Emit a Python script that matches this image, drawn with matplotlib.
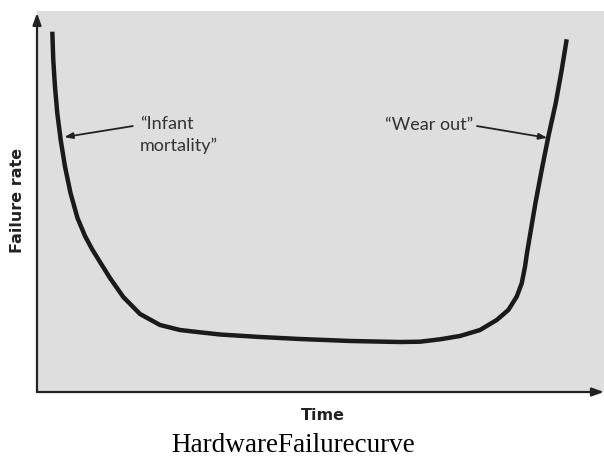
import matplotlib
matplotlib.use("Agg")
import matplotlib.pyplot as plt

# Data (time in % of axis width, failure rate in % of axis height)
time = [2.70, 2.87, 3.17, 3.58, 4.18, 4.94, 5.91, 7.14, 8.47, 9.70, 11.11, 12.87,
        15.22, 18.17, 21.69, 25.22, 28.75, 32.28, 39.33, 46.38, 55.20, 64.02, 67.55,
        71.08, 74.60, 78.13, 81.08, 83.12, 84.60, 85.49, 86.07, 86.42, 87.90, 89.01,
        90.18, 91.48, 92.54, 93.42]
failure_rate = [94.57, 87.14, 80.13, 73.15, 66.14, 59.13, 52.23, 45.67, 40.94, 37.53,
                34.12, 29.92, 24.93, 20.47, 17.59, 16.27, 15.67, 15.09, 14.44, 13.91,
                13.39, 13.12, 13.20, 13.83, 14.70, 16.27, 18.90, 21.52, 25.01, 28.53,
                32.89, 36.50, 49.53, 58.27, 67.01, 75.77, 84.51, 92.57]

labels = ['\u201cInfant\nmortality\u201d', '\u201cWear out\u201d']
label_pos = [(18.17, 67.45), (76.9, 70.1)]
arrow_tails = [(16.9, 69.8), (77.6, 69.8)]
arrow_heads = [(4.80, 66.9), (90.0, 66.7)]

fig = plt.figure(figsize=(6.04, 4.58), dpi=100)
ax = fig.add_axes([37/604, 66/458, 567/604, 381/458])
ax.set_facecolor('#dedede')
ax.set_xlim(0, 100)
ax.set_ylim(0, 100)
for s in ax.spines.values():
    s.set_visible(False)
ax.set_xticks([])
ax.set_yticks([])

ax.plot(time, failure_rate, color='#1a1a1a', lw=3.2, solid_capstyle='butt',
        solid_joinstyle='round')

# axes arrows
ax.annotate('', xy=(0, 0.995), xytext=(0, 0), xycoords='axes fraction',
            arrowprops=dict(arrowstyle='-|>,head_length=0.7,head_width=0.25',
                            color='#222222', lw=1.6, shrinkA=0, shrinkB=0),
            annotation_clip=False)
ax.annotate('', xy=(1.0, 0.0), xytext=(0, 0), xycoords='axes fraction',
            arrowprops=dict(arrowstyle='-|>,head_length=0.7,head_width=0.25',
                            color='#222222', lw=1.6, shrinkA=0, shrinkB=0),
            annotation_clip=False)

# annotations
ax.text(label_pos[0][0], label_pos[0][1], labels[0], ha='left', va='center',
        fontsize=13, family='Lato', color='#333333', linespacing=1.4)
ax.text(label_pos[1][0], label_pos[1][1], labels[1], ha='right', va='center',
        fontsize=13, family='Lato', color='#333333')
for tail, head in zip(arrow_tails, arrow_heads):
    ax.annotate('', xy=head, xytext=tail,
                arrowprops=dict(arrowstyle='-|>,head_length=0.5,head_width=0.18',
                                color='#222222', lw=1.3, shrinkA=0, shrinkB=0))

fig.text(18/604, 1 - 200/458, 'Failure rate', rotation=90, ha='center', va='center',
         fontsize=11.5, fontweight='bold', family='DejaVu Sans', color='#222222')
fig.text(323/604, 1 - 416/458, 'Time', ha='center', va='center',
         fontsize=11.5, fontweight='bold', family='DejaVu Sans', color='#222222')
fig.text(293/604, 1 - 445/458, 'HardwareFailurecurve', ha='center', va='center',
         fontsize=19.5, family='Liberation Serif', color='black')

fig.savefig('out.png', dpi=100)
